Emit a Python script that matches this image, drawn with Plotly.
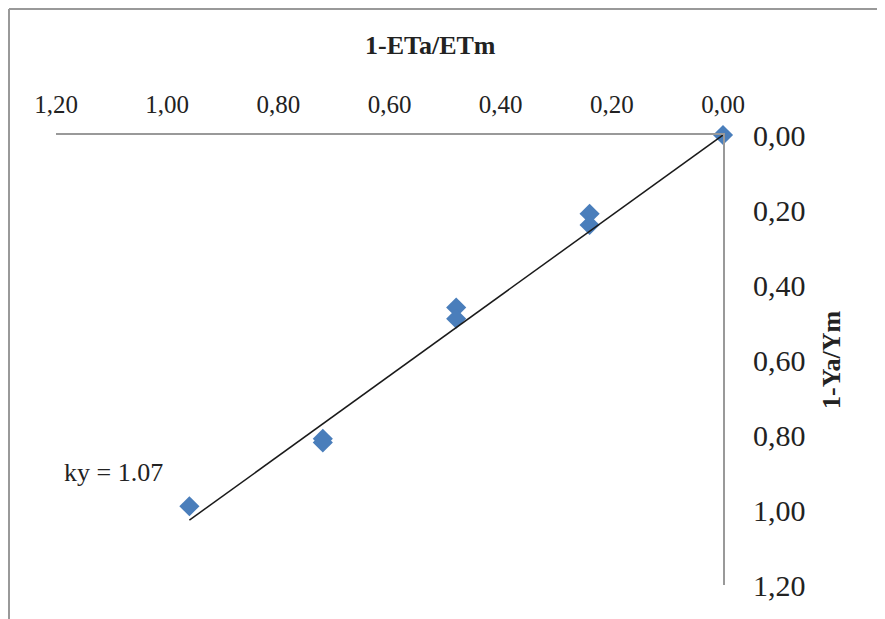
import plotly.graph_objects as go

# Data
eta_deficit = [0.00, 0.24, 0.24, 0.48, 0.48, 0.72, 0.72, 0.96]   # 1-ETa/ETm
yield_deficit = [0.00, 0.21, 0.24, 0.46, 0.49, 0.81, 0.82, 0.99]  # 1-Ya/Ym
trend_x = [0.00, 0.96]
trend_y = [0.00, 1.027]
ky_label = "ky = 1.07"
tick_vals = [0.0, 0.2, 0.4, 0.6, 0.8, 1.0, 1.2]
tick_text = ["0,00", "0,20", "0,40", "0,60", "0,80", "1,00", "1,20"]

SERIF = "Liberation Serif, Times New Roman, serif"
OFF = 8  # page offset of the figure
W, H = 885, 619
L, T = 56 - OFF, 135 - OFF
R = W - (723 - OFF)
B = H - (585 - OFF)
pw, ph = W - L - R, H - T - B

def px_x(p):
    return (p - OFF - L) / pw

def px_y(p):
    return (H - B - (p - OFF)) / ph

fig = go.Figure()
fig.add_trace(go.Scatter(
    x=eta_deficit, y=yield_deficit, mode="markers",
    marker=dict(symbol="diamond", size=15.5, color="#4a7ebb"),
    cliponaxis=False, showlegend=False, hoverinfo="skip"))
fig.add_trace(go.Scatter(
    x=trend_x, y=trend_y, mode="lines",
    line=dict(color="#1a1a1a", width=1.5),
    cliponaxis=False, showlegend=False, hoverinfo="skip"))

fig.update_layout(
    width=W, height=H, autosize=False,
    margin=dict(l=L, r=R, t=T, b=B, pad=0),
    paper_bgcolor="white", plot_bgcolor="white",
    font=dict(family=SERIF, color="#222"),
    xaxis=dict(range=[1.2, 0], side="top", showline=True, linecolor="#999999",
               linewidth=2, showgrid=False, zeroline=False, ticks="",
               tickvals=tick_vals, ticktext=tick_text,
               tickfont=dict(family=SERIF, size=25, color="#222"),
               ticklabelstandoff=10, fixedrange=True),
    yaxis=dict(range=[1.2, 0], side="right", showline=True, linecolor="#999999",
               linewidth=2, showgrid=False, zeroline=False, ticks="",
               tickvals=tick_vals, ticktext=tick_text,
               tickfont=dict(family=SERIF, size=30, color="#222"),
               ticklabelstandoff=22, fixedrange=True),
    annotations=[
        dict(text="<b>1-ETa/ETm</b>", xref="paper", yref="paper",
             x=px_x(430), y=px_y(45), showarrow=False,
             xanchor="center", yanchor="middle",
             font=dict(family=SERIF, size=26, color="#222")),
        dict(text="<b>1-Ya/Ym</b>", xref="paper", yref="paper",
             x=px_x(831), y=px_y(360), showarrow=False, textangle=-90,
             xanchor="center", yanchor="middle",
             font=dict(family=SERIF, size=26, color="#222")),
        dict(text=ky_label, xref="paper", yref="paper",
             x=px_x(113), y=px_y(472), showarrow=False,
             xanchor="center", yanchor="middle",
             font=dict(family=SERIF, size=26, color="#222")),
    ],
    shapes=[
        dict(type="line", xref="paper", yref="paper",
             x0=px_x(9), y0=px_y(9), x1=px_x(W + 20), y1=px_y(9),
             line=dict(color="#999999", width=2)),
        dict(type="line", xref="paper", yref="paper",
             x0=px_x(9), y0=px_y(9), x1=px_x(9), y1=px_y(H + 20),
             line=dict(color="#999999", width=2)),
    ],
)

fig.write_html("out.html")
